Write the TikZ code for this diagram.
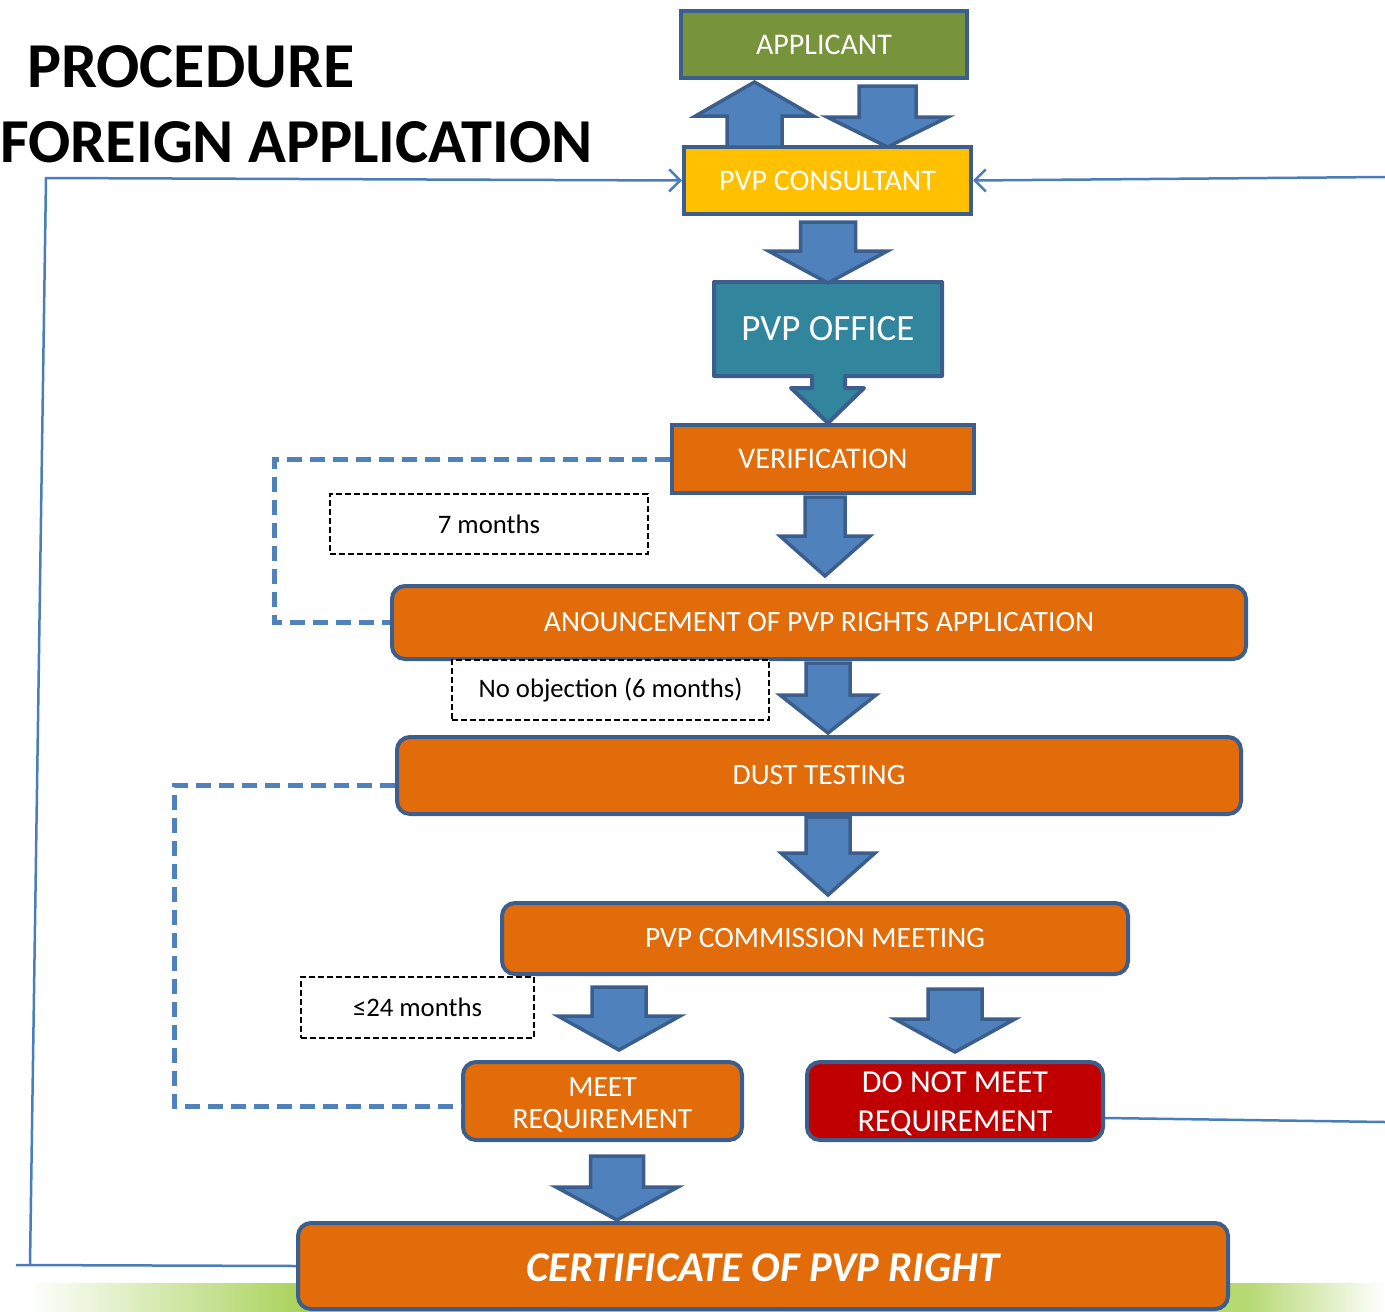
\documentclass[tikz,border=0pt]{standalone}
\usepackage{fontspec}
\setmainfont{Carlito}
\usetikzlibrary{arrows.meta}
\definecolor{bordc}{HTML}{3B5E8C}
\definecolor{arrf}{HTML}{4F81BD}
\definecolor{appg}{HTML}{77933C}
\definecolor{consy}{HTML}{FFC000}
\definecolor{offt}{HTML}{31859C}
\definecolor{orng}{HTML}{E36C0A}
\definecolor{redd}{HTML}{C00000}
\definecolor{linb}{HTML}{4A7EBB}
\definecolor{bandg}{HTML}{A9D25A}
\pgfdeclarehorizontalshading{band}{100bp}{color(0bp)=(white); color(26bp)=(white); color(36bp)=(bandg); color(70bp)=(bandg!85); color(73bp)=(bandg!35); color(75bp)=(white); color(100bp)=(white)}
\newcommand{\blkarrow}[6]{\draw[barr] (#1-#5,#2) -- (#1+#5,#2) -- (#1+#5,#3) -- (#1+#6,#3) -- (#1,#4) -- (#1-#6,#3) -- (#1-#5,#3) -- cycle;}
\begin{document}
\begin{tikzpicture}[x=1pt,y=-1pt,
  box/.style={draw=bordc, line width=4pt, text=white, font=\fontsize{29.5}{36}\selectfont, align=center, inner sep=0pt},
  bigtxt/.style={font=\fontsize{30}{36}\selectfont},
  rbox/.style={box, rounded corners=13pt},
  lbl/.style={draw=black, dash pattern=on 6pt off 3pt, line width=1.6pt, fill=white, font=\fontsize{26.7}{30}\selectfont, inner sep=0pt},
  barr/.style={fill=arrf, draw=bordc, line width=3.5pt, line join=miter},
  fb/.style={draw=linb, line width=2.5pt},
  dl/.style={draw=arrf, line width=5pt, dash pattern=on 15pt off 8pt},
  barb/.style={-{Straight Barb[length=11pt,width=22pt,line width=2.5pt]}}
]
\useasboundingbox (0,0) rectangle (1385,1312);
\fill[white] (0,0) rectangle (1385,1312);
% green band
\shade[shading=band] (0,1283) rectangle (1385,1312);

% title
\node[anchor=base west, font=\bfseries\fontsize{64}{70}\selectfont, inner sep=0pt] (t1) at (27,87) {PROCEDURE};
\node[anchor=base west, font=\bfseries\fontsize{62.5}{70}\selectfont, inner sep=0pt] (t2) at (0,162) {FOREIGN APPLICATION};

% boxes
\node[box, bigtxt, fill=appg, minimum width=286, minimum height=67] (app) at (824,44.5) {APPLICANT};
\node[box, bigtxt, fill=consy, minimum width=287, minimum height=67] (cons) at (827.5,180.5) {PVP CONSULTANT};
\draw[box, fill=offt, line join=round] (714,282) -- (942,282) -- (942,376) -- (845,376) -- (845,388) -- (864,388) -- (828,423) -- (791,388) -- (812,388) -- (812,376) -- (714,376) -- cycle;
\node[text=white, font=\fontsize{37}{40}\selectfont, inner sep=0pt] (off) at (828,329) {PVP OFFICE};
\node[box, bigtxt, fill=orng, minimum width=302, minimum height=68] (ver) at (823,459) {VERIFICATION};

\coordinate (d1x) at (274,0);
\coordinate (d2x) at (174,0);
\node[rbox, fill=orng, minimum width=854, minimum height=73] (ann) at (819,622.5) {ANOUNCEMENT OF PVP RIGHTS APPLICATION};
\node[rbox, fill=orng, minimum width=844, minimum height=77] (dust) at (819,775.5) {DUST TESTING};
\node[rbox, fill=orng, minimum width=626, minimum height=71] (comm) at (815,938.5) {PVP COMMISSION MEETING};
\node[rbox, fill=orng, minimum width=279, minimum height=78, text depth=0pt] (meet) at (602.5,1101) {\raisebox{-4pt}{MEET}\\[-4pt]\raisebox{-4pt}{REQUIREMENT}};
\node[rbox, fill=redd, minimum width=296, minimum height=78] (dnm) at (955,1101) {};
\node[text=white, align=center, inner sep=0pt, font=\fontsize{32}{39}\selectfont] (dnmt) at (955,1104) {DO NOT MEET\\REQUIREMENT};
\node[rbox, fill=orng, minimum width=930, minimum height=86] (cert) at (763,1266) {};
\node[text=white, font=\bfseries\itshape\fontsize{42.5}{46}\selectfont, inner sep=0pt] (certt) at (763,1268) {CERTIFICATE OF PVP RIGHT};

% dashed feedback lines
\draw[dl] (ver.west) -- (ver.west -| d1x) -- (ann.west -| d1x) -- (ann.west);
\draw[dl] ([yshift=-10pt]dust.west) -- ([yshift=-10pt]dust.west -| d2x) -- ([yshift=-5pt]meet.west -| d2x) -- ([yshift=-5pt]meet.west);

% labels
\node[lbl, minimum width=318, minimum height=60] (l7) at (489,524) {7 months};
\node[lbl, minimum width=317, minimum height=60] (lno) at (610.5,690) {No objection (6 months)};
\node[lbl, minimum width=233, minimum height=61] (l24) at (417.5,1007.5) {≤24 months};

% block arrows
\blkarrow{754.5}{147}{116}{82}{27.5}{59}
\blkarrow{887.5}{86}{117}{147}{28.5}{60.5}
\blkarrow{828}{222}{251}{283}{27.5}{59.5}
\blkarrow{825}{497}{536}{576}{20}{45}
\blkarrow{828}{663}{695}{733}{22}{48}
\blkarrow{828}{817}{853}{895}{22}{47}
\blkarrow{619}{987}{1016}{1050}{27}{61}
\blkarrow{955}{989}{1019}{1052}{27}{60}
\blkarrow{617}{1156}{1187}{1220}{26.5}{61}

% thin connectors
\coordinate (lcorner) at (46,178);
\coordinate (lbot) at (30,1265);
\coordinate (lend) at (16,1265);
\coordinate (rtop) at (1385,177);
\coordinate (rbot) at (1385,1122);
\draw[fb, barb] (lbot) -- (lcorner) -- (cons.west);
\draw[fb] (lend) -- (cert.west);
\draw[fb, barb] (rtop) -- (cons.east);
\draw[fb] ([yshift=-17pt]dnm.east) -- (rbot);
\end{tikzpicture}
\end{document}
